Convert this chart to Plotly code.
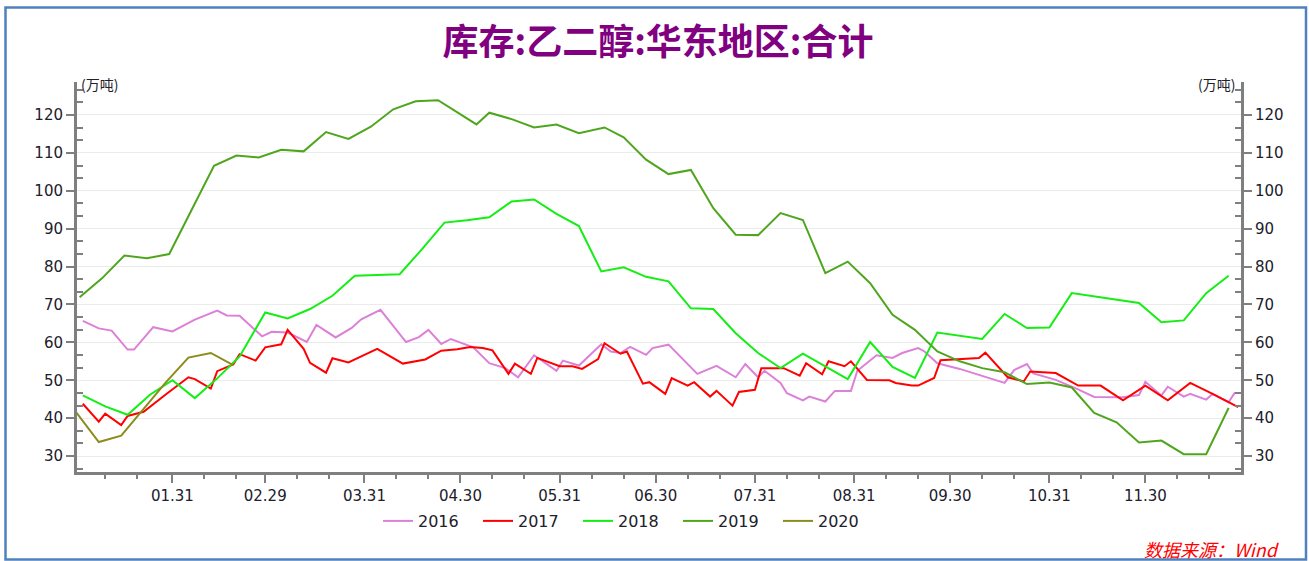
import numpy as np
import pandas as pd
import plotly.graph_objects as go

# ---------------- data (day-of-year in a common year, value in 万吨) ----------------
days_2016 = [3, 8, 12, 17, 19, 25, 31, 38, 45, 48, 52, 56, 59, 62, 67, 73, 76, 82, 87, 90,
             96, 104, 108, 111, 115, 118, 125, 130, 135, 139, 144, 151, 153, 158, 165, 168, 171, 174, 179, 181,
             186, 195, 201, 207, 210, 214, 216, 221, 223, 228, 230, 235, 238, 243, 245, 251, 256, 259, 264, 266,
             270, 277, 284, 291, 294, 298, 300, 307, 314, 319, 328, 333, 335, 340, 342, 347, 349, 354, 356, 361, 363]
vals_2016 = [65.7, 63.7, 63.1, 58.1, 58.1, 64.0, 62.9, 66.0, 68.4, 67.1, 67.0, 64.0, 61.6, 62.8, 62.6, 60.1, 64.6, 61.3, 63.8, 66.1,
             68.6, 60.1, 61.4, 63.3, 59.6, 60.9, 58.7, 54.5, 53.2, 50.8, 56.6, 52.5, 55.2, 53.9, 59.5, 57.6, 57.2, 58.8, 56.7, 58.5,
             59.4, 51.7, 53.8, 50.8, 54.3, 50.8, 52.5, 49.3, 46.6, 44.7, 45.7, 44.4, 47.2, 47.2, 52.5, 56.6, 55.9, 57.2, 58.5, 57.6,
             54.5, 53.0, 51.2, 49.3, 52.7, 54.3, 51.8, 50.1, 47.6, 45.6, 45.5, 46.1, 49.6, 46.0, 48.3, 45.7, 46.4, 44.9, 46.4, 44.2, 46.8]

days_2017 = [3, 8, 10, 15, 17, 22, 29, 36, 38, 43, 45, 50, 52, 57, 60, 65, 67, 72, 74, 79,
             81, 86, 90, 95, 103, 110, 115, 120, 124, 128, 131, 136, 138, 143, 145, 152, 156, 159, 164, 166,
             171, 173, 178, 180, 185, 187, 192, 194, 199, 201, 206, 208, 213, 215, 222, 227, 229, 234, 236, 241,
             243, 248, 255, 257, 262, 264, 269, 271, 283, 285, 292, 297, 299, 307, 314, 321, 328, 335, 342, 349, 356, 364]
vals_2017 = [43.8, 39.1, 41.2, 38.2, 40.6, 41.7, 46.3, 50.8, 50.3, 47.8, 52.4, 54.2, 56.9, 55.2, 58.7, 59.5, 63.3, 58.3, 54.6, 52.0,
             55.8, 54.7, 56.3, 58.3, 54.4, 55.5, 57.8, 58.2, 58.8, 58.5, 57.9, 51.7, 54.4, 51.7, 55.9, 53.7, 53.7, 53.0, 55.6, 59.8,
             57.0, 57.6, 49.1, 49.5, 46.4, 50.6, 48.6, 49.5, 45.7, 47.2, 43.3, 46.9, 47.5, 53.2, 53.2, 51.2, 54.5, 51.6, 55.0, 53.7,
             55.0, 50.1, 50.0, 49.3, 48.6, 48.6, 50.6, 55.3, 55.9, 57.3, 50.8, 49.7, 52.3, 51.9, 48.6, 48.6, 44.7, 48.6, 44.7, 49.3, 46.4, 42.9]

days_2018 = [3, 10, 17, 24, 31, 38, 45, 52, 60, 67, 74, 81, 88, 102, 109, 116, 123, 130, 137, 144,
             151, 158, 165, 172, 179, 186, 193, 200, 207, 214, 221, 228, 235, 242, 249, 256, 263, 270, 284, 291,
             298, 305, 312, 319, 326, 333, 340, 347, 354, 361]
vals_2018 = [46.0, 43.1, 40.9, 46.2, 50.0, 45.3, 50.5, 56.3, 67.9, 66.3, 68.8, 72.3, 77.6, 78.0, 84.6, 91.6, 92.2, 93.0, 97.2, 97.7,
             93.9, 90.7, 78.7, 79.8, 77.3, 76.1, 69.0, 68.8, 62.4, 57.2, 53.2, 57.0, 53.7, 50.3, 60.1, 53.5, 50.6, 62.6, 60.9, 67.5,
             63.8, 63.9, 73.0, 72.1, 71.3, 70.4, 65.3, 65.8, 73.0, 77.6]

days_2019 = [2, 9, 16, 23, 30, 44, 51, 58, 65, 72, 79, 86, 93, 100, 107, 114, 126, 130, 137, 144,
             151, 158, 166, 172, 179, 186, 193, 200, 207, 214, 221, 228, 235, 242, 249, 256, 263, 270, 277, 284,
             291, 298, 305, 312, 319, 326, 333, 340, 347, 354, 361]
vals_2019 = [71.9, 76.9, 82.9, 82.2, 83.3, 106.6, 109.3, 108.8, 110.8, 110.4, 115.5, 113.7, 116.9, 121.5, 123.6, 123.9, 117.5, 120.6, 118.9, 116.7,
             117.5, 115.2, 116.7, 114.1, 108.2, 104.4, 105.5, 95.4, 88.4, 88.3, 94.1, 92.3, 78.3, 81.3, 75.6, 67.3, 63.3, 57.6, 55.0, 53.2,
             52.1, 49.0, 49.4, 48.1, 41.4, 38.9, 33.6, 34.1, 30.5, 30.5, 42.7]

days_2020 = [1, 8, 15, 22, 29, 36, 43, 50]
vals_2020 = [41.5, 33.7, 35.4, 42.6, 49.5, 56.0, 57.2, 54.0]

series_names = ["2016", "2017", "2018", "2019", "2020"]
series_days = [days_2016, days_2017, days_2018, days_2019, days_2020]
series_vals = [vals_2016, vals_2017, vals_2018, vals_2019, vals_2020]
series_colors = ["#DD80D8", "#FF0000", "#14EE14", "#4FA61E", "#8C8C1C"]

x_tick_dates = ["2020-01-31", "2020-02-29", "2020-03-31", "2020-04-30", "2020-05-31", "2020-06-30",
                "2020-07-31", "2020-08-31", "2020-09-30", "2020-10-31", "2020-11-30"]
x_tick_labels = ["01.31", "02.29", "03.31", "04.30", "05.31", "06.30",
                 "07.31", "08.31", "09.30", "10.31", "11.30"]
x_minor_dates = [f"2020-{m:02d}-{d:02d}" for m in range(1, 13) for d in (10, 20)]
y_tick_vals = [30, 40, 50, 60, 70, 80, 90, 100, 110, 120]
y_minor_vals = [k * 10 / 3 for k in range(8, 39) if k % 3 != 0]

title_text = "库存:乙二醇:华东地区:合计"
unit_text = "(万吨)"
source_text = "数据来源：Wind"

base = pd.Timestamp("2020-01-01")


def to_dates(days):
    return base + pd.to_timedelta(np.array(days) - 1, unit="D")


# ---------------- figure ----------------
W, H = 1309, 561
ML, MR, MT, MB = 77, 68, 82, 89
PW, PH = W - ML - MR, H - MT - MB


def px_x(px):
    return (px - ML) / PW


def px_y(py):
    return (H - MB - py) / PH


fig = go.Figure()
for name, d, v, c in zip(series_names, series_days, series_vals, series_colors):
    fig.add_trace(go.Scatter(x=to_dates(d), y=v, mode="lines", name=name,
                             line=dict(color=c, width=2)))

# invisible trace to hold the right axis
fig.add_trace(go.Scatter(x=to_dates(days_2016[:1]), y=[None], yaxis="y2",
                         showlegend=False, hoverinfo="skip", mode="lines"))

axis_col = "#7F7F7F"
tick_font = dict(family="DejaVu Sans", size=15, color="#20202A")
yrange = [25.8, 128.7]

yaxis_common = dict(
    range=yrange, tickmode="array", tickvals=y_tick_vals,
    ticks="outside", ticklen=8, tickwidth=2, tickcolor=axis_col,
    showline=True, linewidth=3, linecolor=axis_col,
    zeroline=False, tickfont=tick_font,
    minor=dict(tickmode="array", tickvals=y_minor_vals, ticks="inside",
               ticklen=6, tickwidth=2, tickcolor=axis_col, showgrid=False),
)

fig.update_layout(
    width=W, height=H,
    margin=dict(l=ML, r=MR, t=MT, b=MB, autoexpand=False),
    paper_bgcolor="white", plot_bgcolor="white",
    title=dict(text=f"<b>{title_text}</b>", x=658 / W, xref="container", xanchor="center",
               y=1 - 42 / H, yref="container", yanchor="middle",
               font=dict(family="Noto Sans CJK SC", size=36, color="#800080")),
    xaxis=dict(
        type="date", range=["2020-01-01 04:30", "2020-12-29 21:00"],
        tickmode="array", tickvals=x_tick_dates, ticktext=x_tick_labels,
        ticks="outside", ticklen=8, tickwidth=2, tickcolor=axis_col,
        showline=True, linewidth=3, linecolor=axis_col,
        showgrid=False, zeroline=False, tickfont=tick_font,
        minor=dict(tickmode="array", tickvals=x_minor_dates, ticks="outside",
                   ticklen=4, tickwidth=2, tickcolor=axis_col, showgrid=False),
    ),
    yaxis=dict(**yaxis_common, showgrid=True, gridcolor="#EBEBEB", gridwidth=1),
    yaxis2=dict(**yaxis_common, overlaying="y", side="right", showgrid=False),
    legend=dict(orientation="h", x=px_x(628), xanchor="center", y=px_y(521), yanchor="middle",
                font=dict(family="DejaVu Sans", size=16, color="#20202A"),
                entrywidth=55, bgcolor="rgba(0,0,0,0)"),
    showlegend=True,
)

fig.add_annotation(text=unit_text, xref="paper", yref="paper", x=0, y=px_y(84),
                   xanchor="left", yanchor="middle", xshift=2, showarrow=False,
                   font=dict(family="Noto Sans CJK SC", size=14, color="#20202A"))
fig.add_annotation(text=unit_text, xref="paper", yref="paper", x=1, y=px_y(84),
                   xanchor="right", yanchor="middle", xshift=-4, showarrow=False,
                   font=dict(family="Noto Sans CJK SC", size=14, color="#20202A"))
fig.add_annotation(text=f"<i>{source_text}</i>", xref="paper", yref="paper", x=px_x(1282), y=px_y(549),
                   xanchor="right", yanchor="middle", showarrow=False,
                   font=dict(family="Noto Sans CJK SC", size=18, color="#FF0000"))

fig.add_shape(type="rect", xref="paper", yref="paper",
              x0=px_x(5.5), x1=px_x(1306), y0=px_y(559.5), y1=px_y(7.5),
              line=dict(color="#4F81BD", width=2.5), fillcolor="rgba(0,0,0,0)", layer="below")

fig.write_html("out.html", config={"displayModeBar": False},
               post_script="document.body.style.margin='0px';document.body.style.padding='0px';"
                           "document.documentElement.style.overflow='hidden';")
